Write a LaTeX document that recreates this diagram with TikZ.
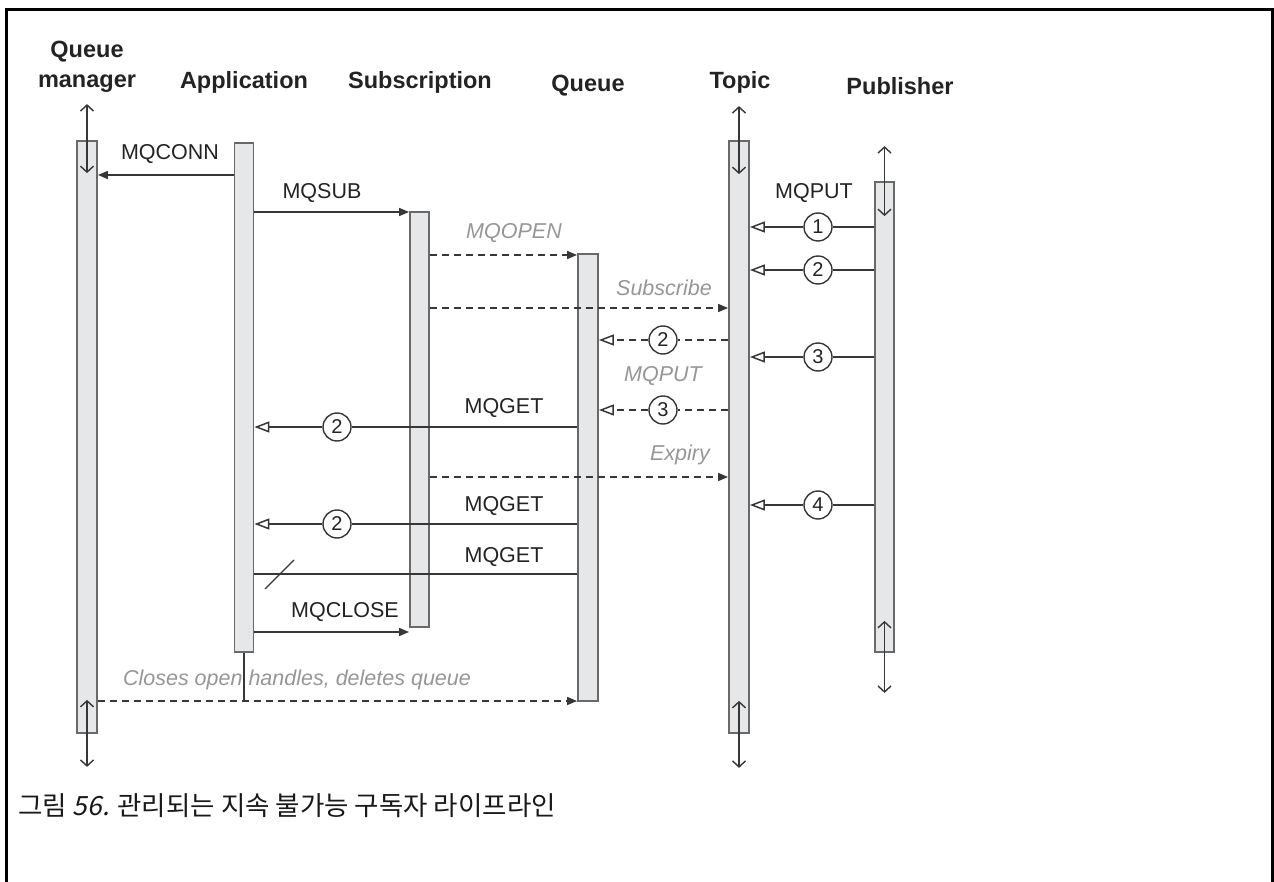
\documentclass[tikz,border=0pt]{standalone}
\usepackage{fontspec}
\setmainfont{Liberation Sans}
\newfontfamily\cjk{Noto Sans CJK KR}
\newfontfamily\cjkit[FakeSlant=0.2]{Noto Sans CJK KR}
\usetikzlibrary{arrows.meta}
\definecolor{barfill}{RGB}{230,231,233}
\definecolor{bardraw}{RGB}{105,105,105}
\definecolor{ln}{RGB}{55,55,55}
\definecolor{txt}{RGB}{35,35,35}
\definecolor{gtxt}{RGB}{150,150,150}
\tikzset{
  bar/.style={draw=bardraw, fill=barfill, line width=1.8pt, inner sep=0pt, minimum width=19pt},
  head/.style={font=\fontsize{23.5}{30}\selectfont\bfseries, text=txt, align=center, inner sep=0pt},
  lbl/.style={font=\fontsize{21.5}{25}\selectfont, text=txt, inner sep=0pt},
  ilbl/.style={font=\fontsize{21.5}{25}\selectfont\itshape, text=gtxt, inner sep=0pt},
  msg/.style={draw=ln, line width=1.5pt, -{Triangle[length=10pt,width=8pt]}},
  omsg/.style={draw=ln, line width=1.5pt, -{Triangle[open,length=15pt,width=11pt,fill=white]}},
  plain/.style={draw=ln, line width=1.5pt},
  dmsg/.style={msg, dash pattern=on 7pt off 5pt},
  domsg/.style={omsg, dash pattern=on 7pt off 5pt},
  dplain/.style={plain, dash pattern=on 7pt off 5pt},
  num/.style={circle, draw=ln, line width=1.4pt, fill=white, minimum size=28pt, inner sep=0pt, font=\fontsize{20}{22}\selectfont, text=txt},
  dbl/.style={draw=ln, line width=1.4pt, {Straight Barb[length=6pt,width=13pt]}-{Straight Barb[length=6pt,width=13pt]}},
}
\begin{document}
\begin{tikzpicture}[x=1pt,y=-1pt]
\useasboundingbox (0,0) rectangle (1274,882);
% frame
\begin{scope}
\clip (0,0) rectangle (1274,882);
\draw[line width=3pt, black] (6,900) -- (6,10) -- (1272,10) -- (1272,900);
\end{scope}
% headers
\node[head] (hqm) at (87,67) {Queue\\manager};
\node[head] (happ) at (244,82) {Application};
\node[head] (hsub) at (420,82) {Subscription};
\node[head] (hq) at (588,86) {Queue};
\node[head] (htop) at (740,82) {Topic};
\node[head] (hpub) at (900,86) {Publisher};
% lifelines
\node[bar, minimum width=20pt, minimum height=592pt] (qm) at (87,437) {};
\node[bar, minimum height=509pt] (app) at (244,397.5) {};
\node[bar, minimum height=415pt] (sub) at (419.5,419.5) {};
\node[bar, minimum width=20pt, minimum height=447pt] (q) at (588,477.5) {};
\node[bar, minimum width=20pt, minimum height=592pt] (top) at (739,437) {};
\node[bar, minimum height=470pt] (pub) at (884.5,417) {};
% lifeline double arrows
\draw[dbl] ([yshift=36pt]qm.north) -- ([yshift=-33pt]qm.north);
\draw[dbl] ([yshift=34pt]qm.south) -- ([yshift=-33pt]qm.south);
\draw[dbl] ([yshift=34pt]top.north) -- ([yshift=-34pt]top.north);
\draw[dbl] ([yshift=33pt]top.south) -- ([yshift=-34pt]top.south);
\draw[dbl] ([yshift=35pt]pub.north) -- ([yshift=-35pt]pub.north);
\draw[dbl] ([yshift=32pt]pub.south) -- ([yshift=-40pt]pub.south);
% MQCONN
\node[lbl] (lconn) at (170,154) {MQCONN};
\draw[msg] (app.west |- 0,175) -- (qm.east |- 0,175);
% MQSUB
\node[lbl] (lsub) at (322,193) {MQSUB};
\draw[msg] (app.east |- 0,212) -- (sub.west |- 0,212);
% MQOPEN
\node[ilbl] (lopen) at (514,233) {MQOPEN};
\draw[dmsg] (sub.east |- 0,255) -- (q.west |- 0,255);
% Subscribe
\node[ilbl] (lsubscr) at (664,288) {Subscribe};
\draw[dmsg] (sub.east |- 0,308) -- (top.west |- 0,308);
% topic -> queue 2
\node[num] (tq2) at (663,340) {2};
\draw[dplain] (top.west |- tq2) -- (tq2);
\draw[domsg] (tq2) -- (q.east |- tq2);
\node[ilbl] (lput2) at (663,376) {MQPUT};
\node[num] (tq3) at (663,410) {3};
\draw[dplain] (top.west |- tq3) -- (tq3);
\draw[domsg] (tq3) -- (q.east |- tq3);
% MQGET 1
\node[lbl] (lget1) at (504,408) {MQGET};
\node[num] (g1) at (337,427) {2};
\draw[plain] (q.west |- g1) -- (g1);
\draw[omsg] (g1) -- (app.east |- g1);
% Expiry
\node[ilbl] (lexp) at (680,455) {Expiry};
\draw[dmsg] (sub.east |- 0,477) -- (top.west |- 0,477);
% MQGET 2
\node[lbl] (lget2) at (504,506) {MQGET};
\node[num] (g2) at (337,524) {2};
\draw[plain] (q.west |- g2) -- (g2);
\draw[omsg] (g2) -- (app.east |- g2);
% MQGET 3
\node[lbl] (lget3) at (504,557) {MQGET};
\draw[plain] (q.west |- 0,574) -- (app.east |- 0,574);
\draw[draw=ln, line width=1.2pt] (265,589) -- (294,560);
% MQCLOSE
\node[lbl] (lclose) at (345,612) {MQCLOSE};
\draw[msg] (app.east |- 0,632) -- (sub.west |- 0,632);
% closes
\draw[draw=ln, line width=1.3pt] (app.south) -- (app.south |- 0,701);
\node[ilbl] (lcloses) at (297,680) {Closes open handles, deletes queue};
\draw[dmsg] (qm.east |- 0,701) -- (q.west |- 0,701);
% publisher puts
\node[lbl] (lput) at (814,193) {MQPUT};
\node[num] (p1) at (818,227) {1};
\draw[plain] (pub.west |- p1) -- (p1);
\draw[omsg] (p1) -- (top.east |- p1);
\node[num] (p2) at (818,270) {2};
\draw[plain] (pub.west |- p2) -- (p2);
\draw[omsg] (p2) -- (top.east |- p2);
\node[num] (p3) at (818,357) {3};
\draw[plain] (pub.west |- p3) -- (p3);
\draw[omsg] (p3) -- (top.east |- p3);
\node[num] (p4) at (818,505) {4};
\draw[plain] (pub.west |- p4) -- (p4);
\draw[omsg] (p4) -- (top.east |- p4);
% caption
\node[anchor=west, inner sep=0pt, font=\fontsize{26.5}{30}\selectfont, text=black!90] (cap) at (18,806) {\cjk 그림 {\cjkit 56.} 관리되는 지속 불가능 구독자 라이프라인};
\end{tikzpicture}
\end{document}
